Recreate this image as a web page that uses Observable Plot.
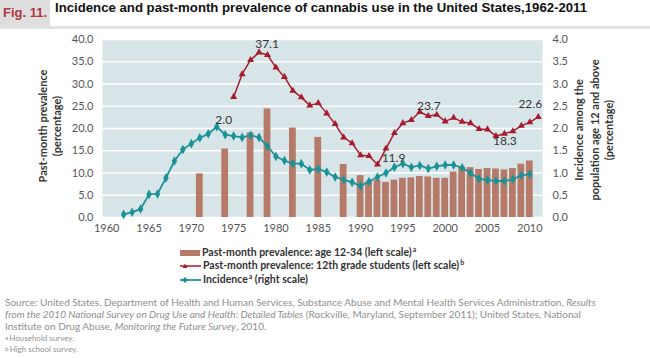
<!DOCTYPE html>
<html><head><meta charset="utf-8">
<script src="https://cdn.jsdelivr.net/npm/d3@7"></script>
<script src="https://cdn.jsdelivr.net/npm/@observablehq/plot@0.6"></script>
<style>
body{margin:0;background:#fff;width:650px;height:358px;overflow:hidden;position:relative;font-family:Lato,"Open Sans",sans-serif;}
#header{position:absolute;left:0;top:0;width:650px;height:26px;border-bottom:3px solid #e2e2e2;}
#fig{position:absolute;left:0;top:0;width:50px;height:26px;background:#dfdede;color:#b3343e;font:bold 13px "Liberation Sans Narrow","Arial Narrow",sans-serif;line-height:26px;text-align:center}
#title{position:absolute;left:55px;top:0;line-height:26px;font:bold 13.2px "Liberation Sans Narrow","Arial Narrow",sans-serif;color:#111;white-space:nowrap}
#chart{position:absolute;left:0;top:30px}
#legend{position:absolute;left:180px;top:246px;font:bold 10.5px Lato,sans-serif;color:#333}
#legend .row{height:13.5px;line-height:13.5px;white-space:nowrap;display:flex;align-items:center}
#legend svg{display:block;margin-right:2px}
.sp{font-size:7px;position:relative;top:-4px;margin-left:1px}
#notes{position:absolute;left:5px;top:296px;width:645px;font:10px Lato,sans-serif;color:#8f8f8f;line-height:12px}
#notes .fn{font-size:8px;line-height:11px}
#notes .fn1{margin-top:1px}
#notes .fn .sp{font-size:6.5px;top:-1.5px;margin-left:0;margin-right:1px}
</style></head>
<body>
<div id="header"><div id="fig">Fig. 11.</div><div id="title">Incidence and past-month prevalence of cannabis use in the United States,1962-2011</div></div>
<div id="chart"></div>
<div id="legend">
  <div class="row"><svg width="20" height="8"><rect x="0" y="1" width="20" height="6" fill="#b57a68"/></svg><span>Past-month prevalence: age 12-34 (left scale)<span class="sp">a</span></span></div>
  <div class="row"><svg width="21" height="8"><line x1="0" y1="4" x2="21" y2="4" stroke="#a51d2d" stroke-width="1.5"/><path d="M5,1.5 L7.5,6 L2.5,6 Z" fill="#a51d2d"/></svg><span>Past-month prevalence: 12th grade students (left scale)<span class="sp">b</span></span></div>
  <div class="row"><svg width="21" height="8"><line x1="0" y1="4" x2="21" y2="4" stroke="#1b9298" stroke-width="1.8"/><path d="M5,1 L8,4 L5,7 L2,4 Z" fill="#1b9298"/></svg><span>Incidence<span class="sp">a</span> (right scale)</span></div>
</div>
<div id="notes">
Source: United States, Department of Health and Human Services, Substance Abuse and Mental Health Services Administration, <i>Results<br>from the 2010 National Survey on Drug Use and Health: Detailed Tables</i> (Rockville, Maryland, September 2011); United States, National<br>Institute on Drug Abuse, <i>Monitoring the Future Survey</i>, 2010.
<div class="fn fn1"><span class="sp">a</span>Household survey.</div>
<div class="fn"><span class="sp">b</span>High school survey.</div>
</div>
<script>
// Past-month prevalence, age 12-34 (left scale), household survey
const barYears = [1971,1974,1977,1979,1982,1985,1988,1990,1991,1992,1993,1994,1995,1996,1997,1998,1999,2000,2001,2002,2003,2004,2005,2006,2007,2008,2009,2010];
const age1234 = [9.8,15.4,19.0,24.4,20.1,18.0,11.9,9.4,8.0,8.4,7.9,8.4,8.8,8.9,9.2,9.1,8.8,8.8,10.2,11.3,11.2,10.8,11.0,10.9,10.7,11.0,12.0,12.7];

// Past-month prevalence, 12th grade students (left scale)
const gradeYears = [1975,1976,1977,1978,1979,1980,1981,1982,1983,1984,1985,1986,1987,1988,1989,1990,1991,1992,1993,1994,1995,1996,1997,1998,1999,2000,2001,2002,2003,2004,2005,2006,2007,2008,2009,2010,2011];
const grade12 = [27.1,32.2,35.4,37.1,36.5,33.7,31.6,28.5,27.0,25.2,25.7,23.4,21.0,18.0,16.7,14.0,13.8,11.9,15.5,19.0,21.2,21.9,23.7,22.8,23.1,21.6,22.4,21.5,21.2,19.9,19.8,18.3,18.8,19.4,20.6,21.4,22.6];

// Incidence among population age 12 and above (right scale)
const incYears = [1962,1963,1964,1965,1966,1967,1968,1969,1970,1971,1972,1973,1974,1975,1976,1977,1978,1979,1980,1981,1982,1983,1984,1985,1986,1987,1988,1989,1990,1991,1992,1993,1994,1995,1996,1997,1998,1999,2000,2001,2002,2003,2004,2005,2006,2007,2008,2009,2010];
const incidence = [0.07,0.12,0.19,0.52,0.53,0.89,1.27,1.53,1.66,1.79,1.88,2.04,1.86,1.83,1.80,1.85,1.80,1.60,1.37,1.28,1.21,1.21,1.07,1.09,1.02,0.91,0.85,0.79,0.71,0.81,0.91,1.00,1.13,1.21,1.13,1.17,1.10,1.15,1.18,1.18,1.12,1.00,0.87,0.84,0.82,0.82,0.86,0.95,0.97];

const xTicks = [1960,1965,1970,1975,1980,1985,1990,1995,2000,2005,2010];
const yTicks = [0,5,10,15,20,25,30,35,40];
const rightRatio = 10; // right scale 0-4 maps onto left scale 0-40

const bars = barYears.map((year, i) => ({year, value: age1234[i]}));
const grade = gradeYears.map((year, i) => ({year, value: grade12[i]}));
const inc = incYears.map((year, i) => ({year, value: incidence[i], y: incidence[i] * rightRatio}));

const RED = "#a51d2d", TEAL = "#1b9298", BAR = "#b57a68";
const pick = (arr, yr) => arr.filter(d => d.year === yr);
const lbl = {fontSize: 12, fill: "#333", fontFamily: "Lato, 'Open Sans', sans-serif"};

const chart = Plot.plot({
  width: 650, height: 210,
  marginLeft: 102, marginRight: 108, marginTop: 9, marginBottom: 23,
  style: {fontFamily: "Lato, 'Open Sans', sans-serif", fontSize: "11px", color: "#555", background: "transparent", overflow: "visible"},
  x: {domain: [1959.5, 2011.5], label: null},
  y: {domain: [0, 40], label: null},
  marks: [
    Plot.frame({fill: "#d8e5e8", stroke: null}),
    Plot.gridY(yTicks, {stroke: "white", strokeOpacity: 1, strokeWidth: 1.4}),
    Plot.rectY(bars, {x1: d => d.year - 0.4, x2: d => d.year + 0.4, y: "value", fill: BAR}),
    Plot.line(grade, {x: "year", y: "value", stroke: RED, strokeWidth: 1.5}),
    Plot.dot(grade, {x: "year", y: "value", symbol: "triangle", r: 2.6, fill: RED}),
    Plot.line(inc, {x: "year", y: "y", stroke: TEAL, strokeWidth: 1.8}),
    Plot.dot(inc, {x: "year", y: "y", symbol: "diamond", r: 2.9, fill: TEAL}),
    Plot.text(pick(grade, 1978), {x: "year", y: "value", text: d => d.value.toFixed(1), dx: 8, dy: -8, ...lbl}),
    Plot.text(pick(grade, 1992), {x: "year", y: "value", text: d => d.value.toFixed(1), dx: 16, dy: -6, ...lbl}),
    Plot.text(pick(grade, 1997), {x: "year", y: "value", text: d => d.value.toFixed(1), dx: 9, dy: -6, ...lbl}),
    Plot.text(pick(grade, 2006), {x: "year", y: "value", text: d => d.value.toFixed(1), dx: 9, dy: 5, ...lbl}),
    Plot.text(pick(grade, 2011), {x: "year", y: "value", text: d => d.value.toFixed(1), dx: -8, dy: -13, ...lbl}),
    Plot.text(pick(inc, 1973), {x: "year", y: "y", text: d => d.value.toFixed(1), dx: 7, dy: -7, ...lbl}),
    Plot.axisX(xTicks, {tickSize: 0, tickPadding: 7, tickFormat: d => String(d), fill: "#555"}),
    Plot.axisY(yTicks, {anchor: "left", tickSize: 0, tickPadding: 9, tickFormat: d => d.toFixed(1), fill: "#555"}),
    Plot.axisY(yTicks, {anchor: "right", tickSize: 0, tickPadding: 10, tickFormat: d => (d / rightRatio).toFixed(1), fill: "#555"})
  ]
});
document.getElementById("chart").appendChild(chart);

// axis titles
const svg = d3.select(chart);
const titleStyle = t => t.attr("text-anchor", "middle").attr("font-weight", "bold").attr("font-size", 11)
  .attr("font-family", "Lato, 'Open Sans', sans-serif").attr("fill", "#333");
const leftLines = ["Past-month prevalence", "(percentage)"];
const leftX = [43, 57];
leftLines.forEach((s, i) => titleStyle(svg.append("text").attr("transform", `translate(${leftX[i]},96) rotate(-90)`).attr("dy", "0.35em").text(s)));
const rightLines = ["Incidence among the", "population age 12 and above", "(percentage)"];
const rightX = [579, 595, 609];
rightLines.forEach((s, i) => titleStyle(svg.append("text").attr("transform", `translate(${rightX[i]},100) rotate(-90)`).attr("dy", "0.35em").text(s)));
</script>
</body></html>
